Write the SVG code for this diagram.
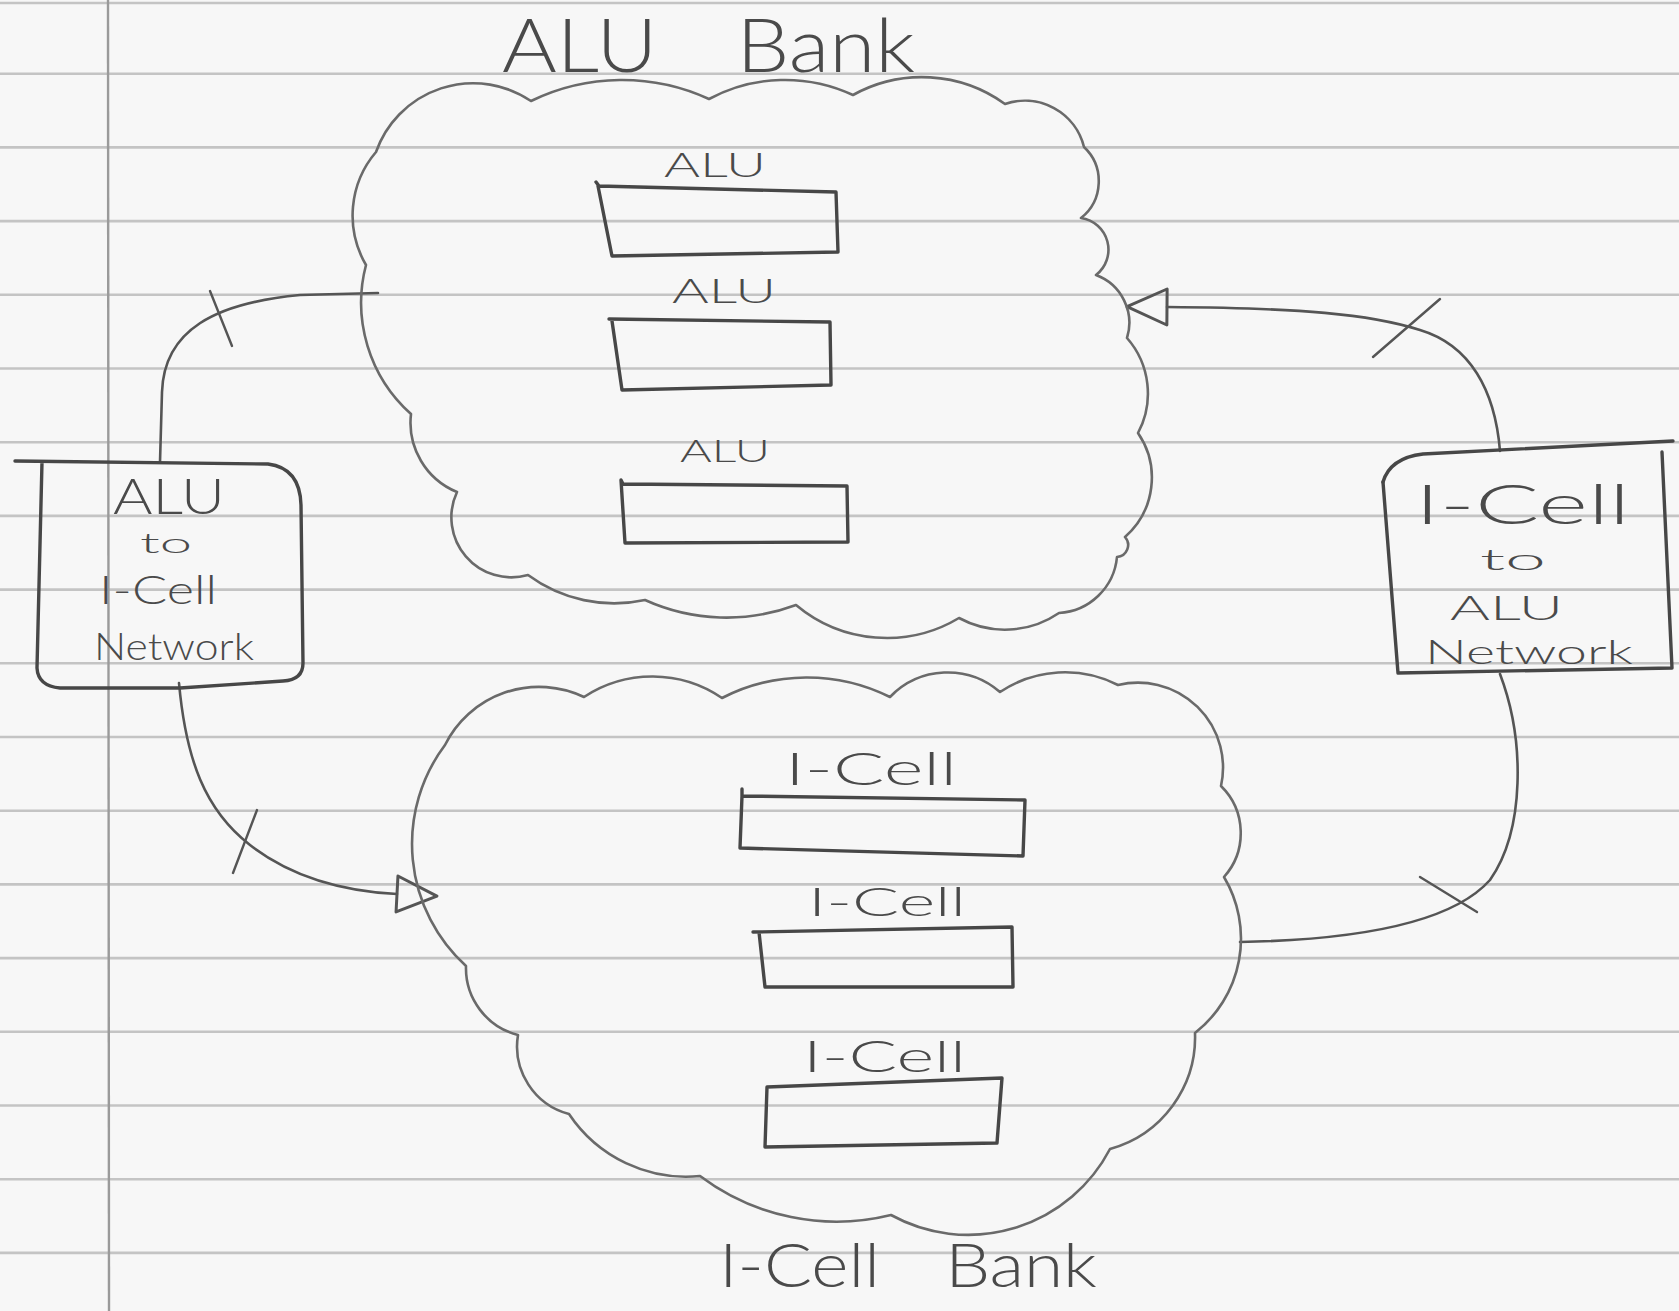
<svg xmlns="http://www.w3.org/2000/svg" width="1679" height="1311" viewBox="0 0 1679 1311">
<style>
.paper{fill:#f7f7f7}
.rule{stroke:#c4c4c4;stroke-width:2.6}
.margin{stroke:#9a9a9a;stroke-width:2.4}
.cloud{fill:none;stroke:#6a6a6a;stroke-width:2.6;stroke-linejoin:round}
.box{fill:none;stroke:#474747;stroke-width:3.4;stroke-linejoin:round;stroke-linecap:round}
.conn{fill:none;stroke:#555;stroke-width:2.6;stroke-linecap:round}
.tick{fill:none;stroke:#555;stroke-width:2.4;stroke-linecap:round}
.txt{font-family:Lato,"DejaVu Sans","Liberation Sans",sans-serif;font-weight:300;fill:#4a4a4a}
</style>
<defs>
<marker id="open-tri" markerUnits="userSpaceOnUse" markerWidth="44" markerHeight="40" viewBox="-2 -2 44 40" refX="0" refY="18" orient="auto">
<path d="M0,0 L40,18 L0,36 Z" fill="none" stroke="#555" stroke-width="3" stroke-linejoin="round"/>
</marker>
</defs>
<rect class="paper" x="0" y="0" width="1679" height="1311"/>
<g id="paper-rules">
<line class="rule" x1="0" y1="3" x2="1679" y2="3"/>
<line class="rule" x1="0" y1="73.7" x2="1679" y2="73.7"/>
<line class="rule" x1="0" y1="147.4" x2="1679" y2="147.4"/>
<line class="rule" x1="0" y1="221.1" x2="1679" y2="221.1"/>
<line class="rule" x1="0" y1="294.8" x2="1679" y2="294.8"/>
<line class="rule" x1="0" y1="368.5" x2="1679" y2="368.5"/>
<line class="rule" x1="0" y1="442.2" x2="1679" y2="442.2"/>
<line class="rule" x1="0" y1="515.9" x2="1679" y2="515.9"/>
<line class="rule" x1="0" y1="589.6" x2="1679" y2="589.6"/>
<line class="rule" x1="0" y1="663.3" x2="1679" y2="663.3"/>
<line class="rule" x1="0" y1="737" x2="1679" y2="737"/>
<line class="rule" x1="0" y1="810.7" x2="1679" y2="810.7"/>
<line class="rule" x1="0" y1="884.4" x2="1679" y2="884.4"/>
<line class="rule" x1="0" y1="958.1" x2="1679" y2="958.1"/>
<line class="rule" x1="0" y1="1031.8" x2="1679" y2="1031.8"/>
<line class="rule" x1="0" y1="1105.5" x2="1679" y2="1105.5"/>
<line class="rule" x1="0" y1="1179.2" x2="1679" y2="1179.2"/>
<line class="rule" x1="0" y1="1252.9" x2="1679" y2="1252.9"/>
<line class="margin" x1="108" y1="0" x2="109" y2="1311"/>
</g>
<g id="connectors">
<path class="conn" d="M160,462 L162,392 C164,330 215,303 300,295 L378,293"/>
<path class="tick" d="M210,291 L232,346"/>
<path class="conn" d="M179,683 C186,760 205,810 250,845 C290,876 340,891 397,894" marker-end="url(#open-tri)"/>
<path class="tick" d="M257,810 L233,873"/>
<path class="conn" d="M1500,451 C1495,390 1470,345 1420,330 C1370,314 1300,308 1167,307" marker-end="url(#open-tri)"/>
<path class="tick" d="M1440,299 L1373,357"/>
<path class="conn" d="M1500,674 C1525,740 1525,830 1490,880 C1450,925 1350,940 1240,942"/>
<path class="tick" d="M1420,877 L1477,912"/>
</g>
<g id="alu-bank">
<path class="cloud" d="M376,152 A103,103 0 0 1 531,101 A208,208 0 0 1 709,99 A161,161 0 0 1 853,95 A142,142 0 0 1 1005,104 A61,61 0 0 1 1084,147 A47,47 0 0 1 1081,218 A32,32 0 0 1 1096,275 A51,51 0 0 1 1127,338 A84,84 0 0 1 1138,433 A79,79 0 0 1 1125,537 A12,12 0 0 1 1117,557 A62,62 0 0 1 1059,613 A96,96 0 0 1 959,618 A141,141 0 0 1 796,605 A198,198 0 0 1 645,600 A145,145 0 0 1 528,575 A60,60 0 0 1 457,492 A75,75 0 0 1 411,414 A149,149 0 0 1 366,265 A98,98 0 0 1 376,152 Z"/>
<text class="txt" x="502" y="72" font-size="74" word-spacing="50" textLength="413" lengthAdjust="spacingAndGlyphs">ALU Bank</text>
</g>
<g id="alu-1">
<text class="txt" x="664" y="177" font-size="33" textLength="102" lengthAdjust="spacingAndGlyphs">ALU</text>
<path class="box" d="M596,182 L599,186 L836,192 L838,252 L612,256 L598,186"/>
</g>
<g id="alu-2">
<text class="txt" x="672" y="303" font-size="33" textLength="104" lengthAdjust="spacingAndGlyphs">ALU</text>
<path class="box" d="M609,319 L830,322 L831,385 L622,390 L612,321"/>
</g>
<g id="alu-3">
<text class="txt" x="680" y="462" font-size="32" textLength="90" lengthAdjust="spacingAndGlyphs">ALU</text>
<path class="box" d="M621,480 L623,484 L847,486 L848,542 L625,543 Z"/>
</g>
<g id="icell-bank">
<path class="cloud" d="M445,745 A105,105 0 0 1 584,697 A124,124 0 0 1 722,698 A186,186 0 0 1 890,697 A80,80 0 0 1 1000,692 A117,117 0 0 1 1118,685 A85,85 0 0 1 1221,786 A66,66 0 0 1 1224,877 A120,120 0 0 1 1195,1033 A116,116 0 0 1 1110,1149 A160,160 0 0 1 891,1215 A227,227 0 0 1 700,1176 A141,141 0 0 1 569,1114 A70,70 0 0 1 518,1035 A69,69 0 0 1 466,966 A165,165 0 0 1 445,745 Z"/>
<text class="txt" x="719" y="1287" font-size="62" word-spacing="40" textLength="378" lengthAdjust="spacingAndGlyphs">I-Cell Bank</text>
</g>
<g id="icell-1">
<text class="txt" x="785" y="785" font-size="46" textLength="172" lengthAdjust="spacingAndGlyphs">I-Cell</text>
<path class="box" d="M742,789 L742,796 L1025,800 L1023,856 L740,848 L742,796"/>
</g>
<g id="icell-2">
<text class="txt" x="808" y="916" font-size="40" textLength="158" lengthAdjust="spacingAndGlyphs">I-Cell</text>
<path class="box" d="M753,932 L1012,927 L1013,987 L765,987 L759,932"/>
</g>
<g id="icell-3">
<text class="txt" x="803" y="1072" font-size="44" textLength="163" lengthAdjust="spacingAndGlyphs">I-Cell</text>
<path class="box" d="M767,1087 L1002,1078 L997,1143 L765,1147 Z"/>
</g>
<g id="alu-to-icell-network">
<path class="box" d="M15,461 L268,464 Q300,468 301,505 L303,663 Q303,680 283,681 L180,688 L60,688 Q38,686 37,668 L42,462"/>
<text class="txt" x="113" y="514" font-size="50" textLength="112" lengthAdjust="spacingAndGlyphs">ALU</text>
<text class="txt" x="140" y="553" font-size="28" textLength="52" lengthAdjust="spacingAndGlyphs">to</text>
<text class="txt" x="99" y="604" font-size="40" textLength="118" lengthAdjust="spacingAndGlyphs">I-Cell</text>
<text class="txt" x="94" y="660" font-size="37" textLength="160" lengthAdjust="spacingAndGlyphs">Network</text>
</g>
<g id="icell-to-alu-network">
<path class="box" d="M1383,482 Q1390,458 1423,454 L1673,441"/>
<path class="box" d="M1662,452 L1672,668 L1398,673 L1383,482"/>
<text class="txt" x="1415" y="524" font-size="56" textLength="215" lengthAdjust="spacingAndGlyphs">I-Cell</text>
<text class="txt" x="1480" y="570" font-size="30" textLength="66" lengthAdjust="spacingAndGlyphs">to</text>
<text class="txt" x="1450" y="620" font-size="34" textLength="113" lengthAdjust="spacingAndGlyphs">ALU</text>
<text class="txt" x="1425" y="664" font-size="34" textLength="208" lengthAdjust="spacingAndGlyphs">Network</text>
</g>
</svg>
